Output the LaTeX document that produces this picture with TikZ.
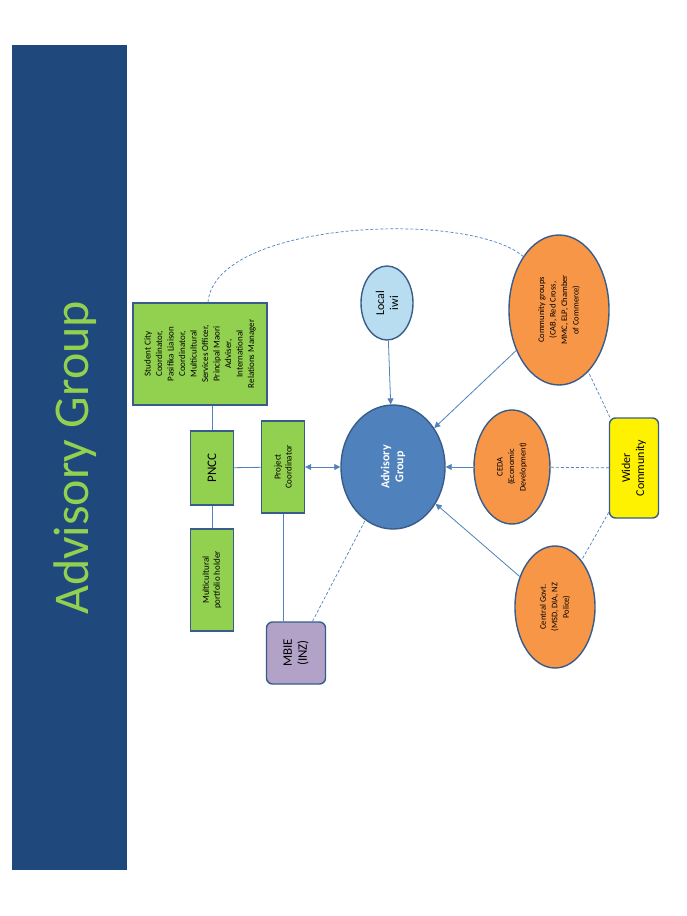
\documentclass[tikz,border=0pt]{standalone}
\usepackage{fontspec}
\setmainfont{Carlito}
\usetikzlibrary{shapes.geometric,arrows.meta}
\definecolor{band}{HTML}{1F497D}
\definecolor{ttl}{HTML}{92D050}
\definecolor{gbox}{HTML}{92D050}
\definecolor{bord}{HTML}{385D8A}
\definecolor{orng}{HTML}{F79646}
\definecolor{advb}{HTML}{4F81BD}
\definecolor{lblue}{HTML}{B9DDF0}
\definecolor{purp}{HTML}{B3A2C7}
\definecolor{ln}{HTML}{4F81BD}
\tikzset{
 box/.style={draw=bord,line width=1.4pt,rotate=90,align=center,inner sep=1pt},
 ell/.style={ellipse,draw=bord,line width=1.4pt,rotate=90,align=center,inner sep=0pt,fill=orng},
 conn/.style={draw=ln,line width=0.8pt},
 arr/.style={conn,-{Triangle[length=6pt,width=6pt]}},
 dsh/.style={draw=ln,line width=0.7pt,dashed,dash pattern=on 3pt off 2pt},
}
\begin{document}
\begin{tikzpicture}[x=1pt,y=-1pt]
\useasboundingbox[fill=white] (0,0) rectangle (686,916);
\fill[band] (12,45) rectangle (127,870);
\node[rotate=90,text=ttl,font=\fontsize{50}{56}\selectfont] (title) at (75,458) {Advisory Group};
\node[box,fill=gbox,minimum width=102,minimum height=134,font=\fontsize{9}{11.5}\selectfont] (stu) at (200,354) {Student City\\Coordinator,\\Pasifika Liaison\\Coordinator,\\Multicultural\\Services Officer,\\Principal Maori\\Adviser,\\International\\Relations Manager};
\node[box,fill=gbox,minimum width=74,minimum height=43,font=\fontsize{13}{15}\selectfont] (pncc) at (212,468) {PNCC};
\node[box,fill=gbox,minimum width=102,minimum height=43,font=\fontsize{9}{11}\selectfont] (multi) at (212,580) {Multicultural\\portfolio holder};
\node[box,fill=gbox,minimum width=92,minimum height=43,font=\fontsize{9}{11}\selectfont] (proj) at (283,467) {Project\\Coordinator};
\node[box,fill=purp,rounded corners=6pt,minimum width=62,minimum height=59,font=\fontsize{13}{15}\selectfont] (mbie) at (296,653) {MBIE\\(INZ)};
\node[box,fill=yellow,rounded corners=6pt,minimum width=100,minimum height=49,font=\fontsize{12}{14}\selectfont] (wider) at (634,468) {Wider\\Community};
\node[ell,fill=lblue,minimum width=74,minimum height=52,font=\fontsize{12}{14}\selectfont] (iwi) at (387,303) {Local\\iwi};
\node[ell,fill=advb,text=white,minimum width=124,minimum height=104,font=\bfseries\fontsize{12}{14}\selectfont] (adv) at (393,467) {Advisory\\Group};
\node[ell,minimum width=150,minimum height=100,font=\fontsize{8.5}{11.5}\selectfont] (comm) at (559,310) {Community groups\\(CAB, Red Cross,\\MMC, ELP, Chamber\\of Commerce)};
\node[ell,minimum width=114,minimum height=76,font=\fontsize{8.5}{11.5}\selectfont] (ceda) at (512,467) {CEDA\\(Economic\\Development)};
\node[ell,minimum width=122,minimum height=80,font=\fontsize{8.5}{11.5}\selectfont] (cent) at (555,607) {Central Govt.\\(MSD, DIA, NZ\\Police)};
% connectors
\draw[conn] (stu.west -| pncc) -- (pncc);
\draw[conn] (pncc) -- (multi);
\draw[conn] (pncc) -- (proj);
\draw[conn,{Triangle[length=6pt,width=6pt]}-{Triangle[length=6pt,width=6pt]}] (proj) -- (adv);
\draw[conn] (proj.west) -- (mbie.east -| proj.west);
\draw[dsh] (mbie) -- (adv);
\draw[arr] (iwi) -- (adv);
\draw[arr] (comm) -- (adv);
\draw[arr] (ceda) -- (adv);
\draw[arr] (cent) -- (adv);
\draw[dsh] (wider) -- (ceda);
\draw[dsh] (wider) -- (comm);
\draw[dsh] (wider) -- (cent);
\draw[dsh] (stu.east -| 208,0) .. controls (215,220) and (470,210) .. (comm.north east);
\end{tikzpicture}
\end{document}
